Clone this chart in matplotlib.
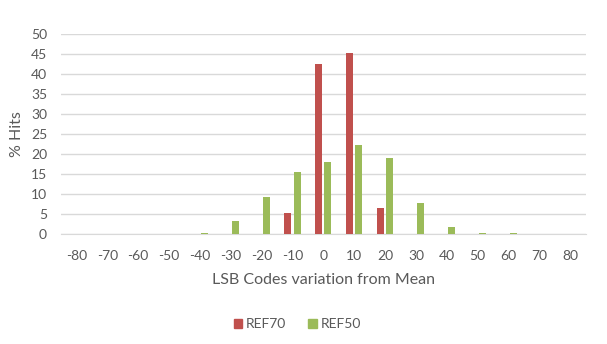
import numpy as np
import matplotlib
matplotlib.use("Agg")
import matplotlib.pyplot as plt
from matplotlib.patches import Patch

plt.rcParams['font.family'] = ['Lato', 'DejaVu Sans']

# histogram of LSB code deviations
codes = [-80, -70, -60, -50, -40, -30, -20, -10, 0, 10, 20, 30, 40, 50, 60, 70, 80]
ref70 = [0, 0, 0, 0, 0, 0, 0, 5.25, 42.5, 45.4, 6.5, 0, 0, 0, 0, 0, 0]
ref50 = [0, 0, 0, 0, 0.4, 3.2, 9.4, 15.5, 18.2, 22.3, 19.2, 7.8, 1.9, 0.4, 0.4, 0.1, 0]

red = '#C0504D'
green = '#9BBB59'
grey = '#595959'

fig = plt.figure(figsize=(6.07, 3.44), dpi=100)
ax = fig.add_axes([0.1005, 0.319, 0.8645, 0.581])

x = np.arange(len(codes))
w = 0.23
ax.bar(x - 0.148, ref70, width=w, color=red, zorder=3)
ax.bar(x + 0.148, ref50, width=w, color=green, zorder=3)

ax.set_xlim(-0.5, len(codes) - 0.5)
ax.set_ylim(0, 50)
ax.set_yticks(range(0, 51, 5))
ax.set_xticks(x)
ax.set_xticklabels([str(c) for c in codes])
ax.yaxis.grid(True, color='#D9D9D9', linewidth=1, zorder=0)
for s in ['top', 'right', 'left']:
    ax.spines[s].set_visible(False)
ax.spines['bottom'].set_color('#D9D9D9')
ax.tick_params(axis='both', length=0, colors=grey, labelsize=10)
ax.tick_params(axis='x', pad=11)
ax.tick_params(axis='y', pad=10)

ax.set_xlabel('LSB Codes variation from Mean', color=grey, fontsize=11.5, labelpad=8)
ax.set_ylabel('% Hits', color=grey, fontsize=11.5, labelpad=5)

handles = [Patch(color=red, label='REF70'), Patch(color=green, label='REF50')]
fig.legend(handles=handles, loc='center', bbox_to_anchor=(0.49, 0.058), ncol=2,
           frameon=False, fontsize=10, labelcolor=grey, handlelength=0.6,
           handleheight=0.6, handletextpad=0.3, columnspacing=1.6)

fig.savefig('out.png', dpi=100)
